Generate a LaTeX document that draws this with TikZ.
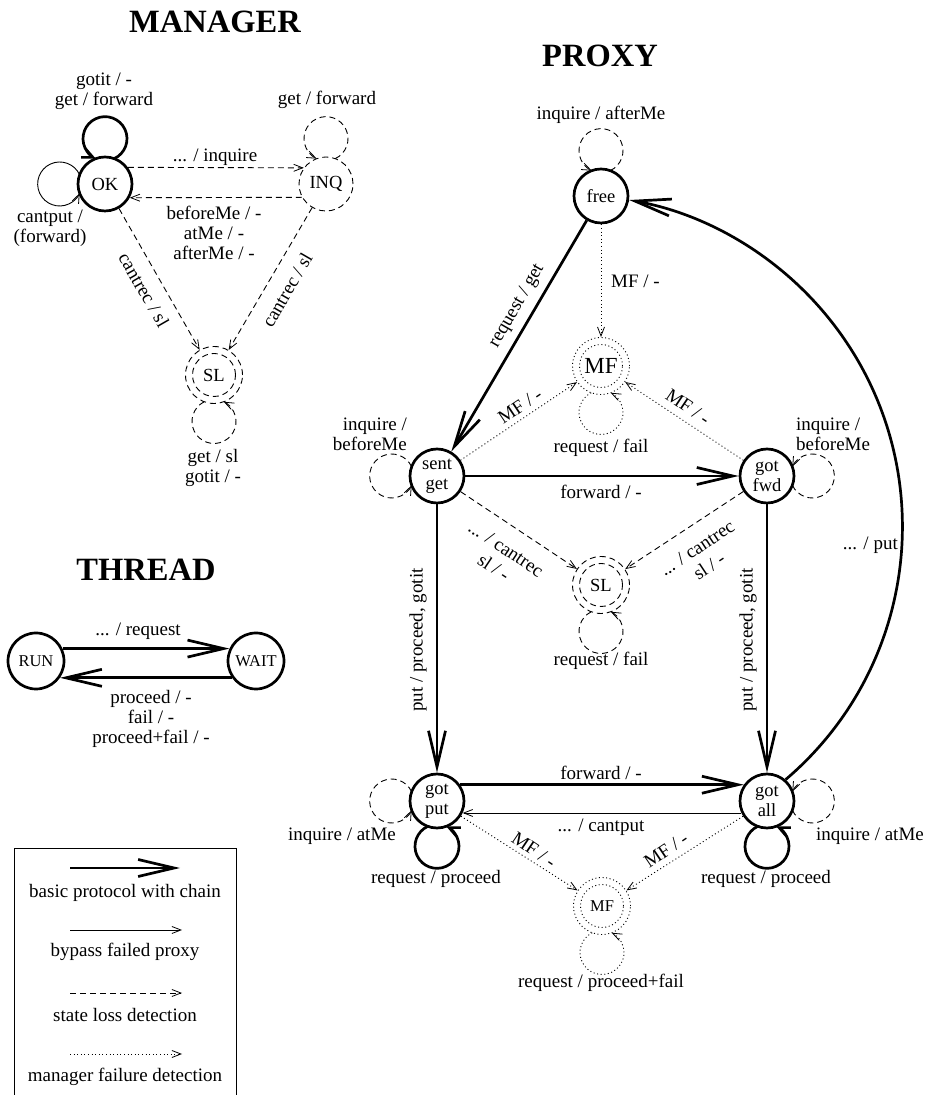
\documentclass[tikz,border=0pt]{standalone}
\usepackage{fontspec}
\setmainfont{Liberation Serif}
\usetikzlibrary{arrows.meta}
\newcommand\lblfont{\fontsize{19}{20}\selectfont}
\newcommand\nfont{\fontsize{18.5}{20}\selectfont}
\newcommand\ttlfont{\fontsize{32.5}{36}\selectfont\bfseries}
\newcommand\mkloop[4]{%
  \pgfmathsetmacro\lpd{#4*cos(20)+sqrt(484-(#4*sin(20))^2)}%
  \pgfmathsetmacro\lpb{atan2(-#4*sin(20),#4*cos(20)-\lpd)}%
  \draw[#1] (#2) ++({#3-20}:#4) arc[start angle={#3+\lpb},delta angle={-2*\lpb},radius=22];}
\tikzset{
 thk/.style={line width=2.7pt,-{Straight Barb[length=36pt,width=17pt,line width=2.7pt]}},
 thkloop/.style={line width=2.7pt,-{Straight Barb[length=11pt,width=10pt,line width=2.4pt]}},
 thn/.style={line width=0.9pt,-{Straight Barb[length=9pt,width=7pt,line width=0.8pt]}},
 dsh/.style={thn,dash pattern=on 6pt off 4pt},
 dtt/.style={thn,dash pattern=on 1pt off 2.6pt},
 dshpat/.style={dash pattern=on 6pt off 4pt},
 dttpat/.style={dash pattern=on 1pt off 2.6pt},
 tstate/.style={circle,draw,line width=2.7pt,minimum size=54pt,inner sep=0pt,font=\nfont,align=center},
 dstate/.style={circle,draw,line width=0.9pt,dshpat,minimum size=54pt,inner sep=0pt,font=\nfont},
 dblstate/.style={circle,draw,line width=0.9pt,minimum size=57pt,inner sep=0pt,font=\nfont},
 inner/.style={line width=0.9pt},
 lbl/.style={font=\lblfont,inner sep=0pt,align=center},
 ttl/.style={font=\ttlfont,inner sep=0pt},
}
\begin{document}
\begin{tikzpicture}[x=1pt,y=1pt]
\useasboundingbox (0,0) rectangle (930,1095);
% titles
\node[ttl] (tM) at (215,1073) {MANAGER};
\node[ttl] (tP) at (600,1039) {PROXY};
\node[ttl] (tT) at (146,525) {THREAD};
% manager states
\node[tstate] (OK) at (105,911) {OK};
\node[dstate] (INQ) at (326,911) {INQ};
\node[dblstate,dshpat] (SLm) at (214,720) {SL};
\draw[inner,dshpat] (SLm.center) circle (21.5);
% thread states
\node[tstate,minimum size=56pt,font=\fontsize{16.5}{18}\selectfont] (RUN) at (36,434) {RUN};
\node[tstate,minimum size=56pt,font=\fontsize{16.5}{18}\selectfont] (WAIT) at (256,434) {WAIT};
% proxy states
\node[tstate] (free) at (601,899) {free};
\node[dblstate,dttpat,font=\fontsize{23}{24}\selectfont] (MFt) at (601,729) {MF};
\draw[inner,dttpat] (MFt.center) circle (21.5);
\node[tstate] (sentget) at (437,619) {sent\\get};
\node[tstate] (gotfwd) at (767,619) {got\\fwd};
\node[dblstate,dshpat] (SLp) at (601,510) {SL};
\draw[inner,dshpat] (SLp.center) circle (21.5);
\node[tstate] (gotput) at (437,294) {got\\put};
\node[tstate] (gotall) at (767,294) {got\\all};
\node[dblstate,dttpat,font=\fontsize{16.5}{18}\selectfont] (MFb) at (602,189) {MF};
\draw[inner,dttpat] (MFb.center) circle (21.5);
% manager edges
\draw[dsh] (OK.36) -- (INQ.144);
\draw[dsh] (INQ.-151) -- (OK.-29);
\draw[dsh] (OK) -- (SLm);
\draw[dsh] (INQ) -- (SLm);
\mkloop{thkloop}{OK}{90}{27}
\mkloop{thn}{OK}{180}{27}
\mkloop{dsh}{INQ}{90}{27}
\mkloop{dsh}{SLm}{270}{28.5}
% thread edges
\draw[thk] (RUN.25) -- (WAIT.155);
\draw[thk] (WAIT.-145) -- (RUN.-35);
% proxy edges
\draw[thk] (free) -- (sentget);
\draw[dtt] (free) -- (MFt);
\draw[dtt] (sentget) -- (MFt);
\draw[dtt] (gotfwd) -- (MFt);
\draw[thk] (sentget) -- (gotfwd);
\draw[dsh] (sentget) -- (SLp);
\draw[dsh] (gotfwd) -- (SLp);
\draw[thk] (sentget) -- (gotput);
\draw[thk] (gotfwd) -- (gotall);
\draw[thk] (gotput.35) -- (gotall.145);
\draw[thn] (gotall.-155) -- (gotput.-25);
\draw[dtt] (gotput) -- (MFb);
\draw[dtt] (gotall) -- (MFb);
\draw[thk] (gotall.49) arc[start angle=-49.6,end angle=79.8,radius=332];
\mkloop{dsh}{free}{90}{27}
\mkloop{dtt}{MFt}{270}{28.5}
\mkloop{dsh}{sentget}{180}{27}
\mkloop{dsh}{gotfwd}{0}{27}
\mkloop{dsh}{SLp}{270}{28.5}
\mkloop{dsh}{gotput}{180}{27}
\mkloop{thkloop}{gotput}{270}{27}
\mkloop{dsh}{gotall}{0}{27}
\mkloop{thkloop}{gotall}{270}{27}
\mkloop{dtt}{MFb}{270}{28.5}
% manager labels
\node[lbl] (l1) at (104,1004) {gotit / -\\get / forward};
\node[lbl] (l2) at (327,995) {get / forward};
\node[lbl] (l3) at (215,938) {... / inquire};
\node[lbl] (l4) at (214,862) {beforeMe / -\\atMe / -\\afterMe / -};
\node[lbl] (l5) at (50,867) {cantput /\\(forward)};
\node[lbl,rotate=-60] (l6) at (144,805) {cantrec / sl};
\node[lbl,rotate=60] (l7) at (287,805) {cantrec / sl};
\node[lbl] (l8) at (213,627) {get / sl\\gotit / -};
% thread labels
\node[lbl] (l9) at (138,464) {... / request};
\node[lbl] (l10) at (151,376) {proceed / -\\fail / -\\proceed+fail / -};
% proxy labels
\node[lbl] (p1) at (601,980) {inquire / afterMe};
\node[lbl,anchor=west] (p2) at (611,814) {MF / -};
\node[lbl,rotate=60] (p3) at (517,789) {request / get};
\node[lbl] (p4) at (601,647) {request / fail};
\node[lbl,rotate=34] (p5) at (520,689) {MF / -};
\node[lbl,rotate=-34] (p6) at (688,688) {MF / -};
\node[lbl,align=right,anchor=east] (p7) at (407,661) {inquire /\\beforeMe};
\node[lbl,align=left,anchor=west] (p8) at (796,661) {inquire /\\beforeMe};
\node[lbl] (p9) at (601,603) {forward / -};
\node[lbl,rotate=-33.6] (p10a) at (506,546) {... / cantrec};
\node[lbl,rotate=-33.6] (p10b) at (494,528) {sl / -};
\node[lbl,rotate=33.6] (p11a) at (697,547) {... / cantrec};
\node[lbl,rotate=33.6] (p11b) at (709,529) {sl / -};
\node[lbl] (p12) at (601,434) {request / fail};
\node[lbl,rotate=90] (p13) at (418,455) {put / proceed, gotit};
\node[lbl,rotate=90] (p14) at (748,455) {put / proceed, gotit};
\node[lbl,anchor=east] (p15) at (898,550) {... / put};
\node[lbl] (p16) at (601,322) {forward / -};
\node[lbl] (p17) at (601,268) {... / cantput};
\node[lbl] (p18) at (342,259) {inquire / atMe};
\node[lbl] (p19) at (870,259) {inquire / atMe};
\node[lbl] (p20) at (436,216) {request / proceed};
\node[lbl] (p21) at (766,216) {request / proceed};
\node[lbl,rotate=-34] (p22) at (534,245) {MF / -};
\node[lbl,rotate=34] (p23) at (666,245) {MF / -};
\node[lbl] (p24) at (601,112) {request / proceed+fail};
% legend
\draw[line width=0.9pt] (14,0) -- (14,247) -- (236,247) -- (236,0);
\coordinate (a1) at (70,227); \coordinate (b1) at (180,227);
\coordinate (a2) at (70,165); \coordinate (b2) at (182,165);
\coordinate (a3) at (70,102); \coordinate (b3) at (182,102);
\coordinate (a4) at (70,41);  \coordinate (b4) at (182,41);
\draw[thk] (a1) -- (b1);
\draw[thn] (a2) -- (b2);
\draw[dsh] (a3) -- (b3);
\draw[dtt] (a4) -- (b4);
\node[lbl] (g1) at (125,202) {basic protocol with chain};
\node[lbl] (g2) at (125,143) {bypass failed proxy};
\node[lbl] (g3) at (125,80) {state loss detection};
\node[lbl] (g4) at (125,18) {manager failure detection};
\end{tikzpicture}
\end{document}
